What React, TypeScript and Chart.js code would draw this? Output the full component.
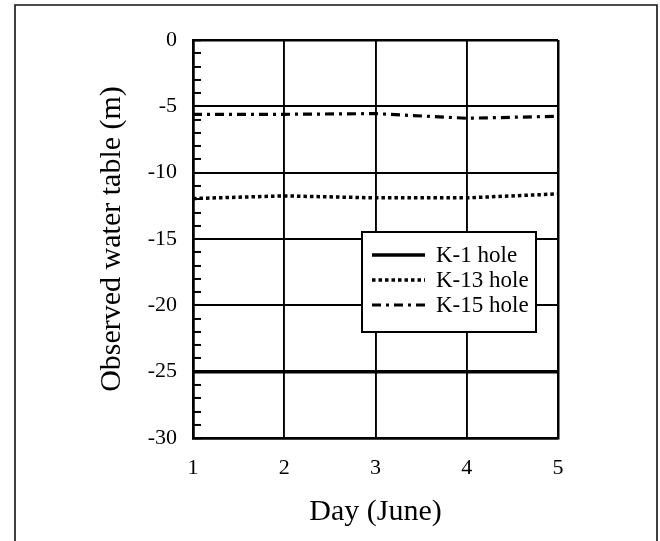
import React, { useEffect, useRef } from "react";
import { Chart, registerables } from "chart.js";

Chart.register(...registerables);

// ---- data ----
const days = [1, 2, 3, 4, 5];
const k1Values = [-25, -25, -25, -25, -25];
const k13Values = [-11.95, -11.75, -11.9, -11.9, -11.6];
const k15Values = [-5.6, -5.6, -5.55, -5.9, -5.75];
const seriesLabels = ["K-1 hole", "K-13 hole", "K-15 hole"];
const xTitle = "Day (June)";
const yTitle = "Observed water table (m)";
const xMin = 1;
const xMax = 5;
const yMin = -30;
const yMax = 0;
const yMajorStep = 5;
const yMinorStep = 1;

const FONT = "'Liberation Serif', 'Times New Roman', serif";

const framePlugin = {
  id: "outerFrame",
  afterDraw(chart: any) {
    const ctx = chart.ctx;
    ctx.save();
    ctx.strokeStyle = "#111";
    ctx.lineWidth = 1.6;
    ctx.beginPath();
    ctx.moveTo(15, 541);
    ctx.lineTo(15, 5);
    ctx.lineTo(657, 5);
    ctx.lineTo(657, 541);
    ctx.stroke();
    ctx.restore();
  },
};

const boxLegendPlugin = {
  id: "boxLegend",
  afterDatasetsDraw(chart: any) {
    const ctx = chart.ctx;
    const x0 = 362, y0 = 232, w = 174, h = 100;
    ctx.save();
    ctx.fillStyle = "#fff";
    ctx.fillRect(x0, y0, w, h);
    ctx.lineWidth = 2;
    ctx.strokeStyle = "#000";
    ctx.setLineDash([]);
    ctx.strokeRect(x0, y0, w, h);
    chart.data.datasets.forEach((ds: any, i: number) => {
      const y = 255 + i * 25;
      ctx.beginPath();
      ctx.setLineDash(ds.borderDash || []);
      ctx.lineWidth = ds.borderWidth;
      ctx.strokeStyle = ds.borderColor;
      ctx.moveTo(372, y);
      ctx.lineTo(425, y);
      ctx.stroke();
      ctx.setLineDash([]);
      ctx.font = `23px ${FONT}`;
      ctx.fillStyle = "#000";
      ctx.textBaseline = "alphabetic";
      ctx.textAlign = "left";
      ctx.fillText(ds.label, 436, y + 7);
    });
    ctx.restore();
  },
};

export default function App() {
  const ref = useRef<HTMLCanvasElement | null>(null);

  useEffect(() => {
    document.body.style.margin = "0";
    const canvas = ref.current;
    if (!canvas) return;
    const mk = (vals: number[]) => days.map((d, i) => ({ x: d, y: vals[i] }));
    const chart = new Chart(canvas, {
      type: "line",
      data: {
        datasets: [
          {
            label: seriesLabels[0],
            data: mk(k1Values),
            borderColor: "#000",
            borderWidth: 3.5,
            borderDash: [],
            pointRadius: 0,
            tension: 0,
            fill: false,
          },
          {
            label: seriesLabels[1],
            data: mk(k13Values),
            borderColor: "#000",
            borderWidth: 3.5,
            borderDash: [3.5, 3],
            pointRadius: 0,
            tension: 0,
            fill: false,
          },
          {
            label: seriesLabels[2],
            data: mk(k15Values),
            borderColor: "#000",
            borderWidth: 3.2,
            borderDash: [9, 5, 3, 5],
            pointRadius: 0,
            tension: 0,
            fill: false,
          },
        ],
      },
      options: {
        responsive: false,
        maintainAspectRatio: false,
        animation: false,
        devicePixelRatio: 1,
        layout: { padding: { top: 40, right: 102, bottom: 0, left: 0 } },
        plugins: {
          legend: { display: false },
          tooltip: { enabled: false },
        },
        scales: {
          x: {
            type: "linear",
            min: xMin,
            max: xMax,
            afterFit: (s: any) => {
              s.height = 103;
            },
            ticks: {
              stepSize: 1,
              color: "#000",
              padding: 17,
              font: { family: FONT, size: 22 },
              callback: (v: any) => String(v),
            },
            grid: {
              color: "#000",
              lineWidth: (c: any) =>
                c.tick && (c.tick.value === xMin || c.tick.value === xMax) ? 2.5 : 1.9,
              drawTicks: false,
            },
            border: { color: "#000", width: 2.5 },
            title: {
              display: true,
              text: xTitle,
              color: "#000",
              font: { family: FONT, size: 30 },
              padding: { top: 0, bottom: 11 },
            },
          },
          y: {
            type: "linear",
            min: yMin,
            max: yMax,
            afterFit: (s: any) => {
              s.width = 193;
            },
            ticks: {
              stepSize: yMinorStep,
              color: "#000",
              padding: 24,
              autoSkip: false,
              font: { family: FONT, size: 22 },
              callback: (v: any) => (Number(v) % yMajorStep === 0 ? String(v) : ""),
            },
            grid: {
              color: (c: any) =>
                c.tick && c.tick.value % yMajorStep === 0 ? "#000" : "rgba(0,0,0,0)",
              lineWidth: (c: any) =>
                c.tick && (c.tick.value === yMin || c.tick.value === yMax) ? 2.5 : 1.9,
              tickColor: "#000",
              tickWidth: 2,
              tickLength: -8,
              drawTicks: true,
            },
            border: { color: "#000", width: 2.5 },
            title: {
              display: true,
              text: yTitle,
              color: "#000",
              font: { family: FONT, size: 30 },
              padding: { top: 94, bottom: 0 },
            },
          },
        },
      },
      plugins: [framePlugin, boxLegendPlugin],
    } as any);
    return () => chart.destroy();
  }, []);

  return (
    <div style={{ width: 660, height: 541, background: "#fff" }}>
      <canvas ref={ref} width={660} height={541} style={{ display: "block" }} />
    </div>
  );
}
